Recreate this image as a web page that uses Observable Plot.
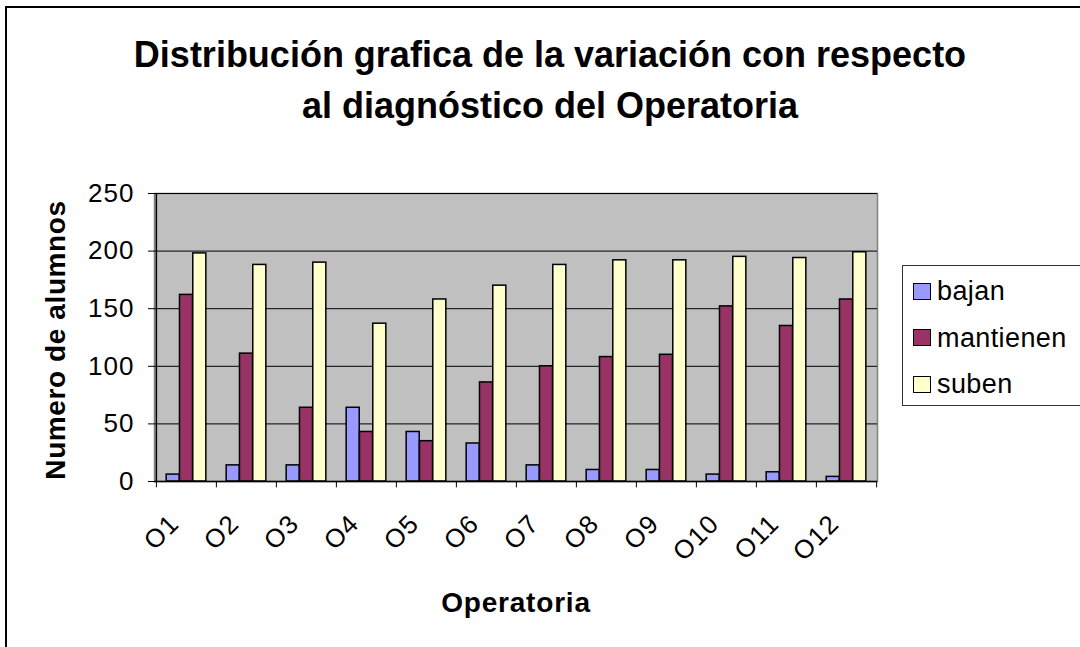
<!DOCTYPE html>
<html>
<head>
<meta charset="utf-8">
<script src="https://cdn.jsdelivr.net/npm/d3@7"></script>
<script src="https://cdn.jsdelivr.net/npm/@observablehq/plot@0.6"></script>
<style>
  html, body { margin: 0; padding: 0; background: #fff; overflow: hidden; }
  body { width: 1080px; height: 647px; position: relative; font-family: Arial, "Liberation Sans", sans-serif; }
  #frame { position: absolute; left: 5px; top: 6px; width: 1100px; height: 700px; border: 2px solid #000; box-sizing: border-box; }
  #title { position: absolute; left: 0; top: 29px; width: 1100px; text-align: center; font-weight: bold; font-size: 36px; line-height: 51px; color: #000; }
  #chart { position: absolute; left: 0; top: 140px; }
  #ytitle { position: absolute; left: 56px; top: 340px; transform: translate(-50%, -50%) rotate(-90deg); font-weight: bold; font-size: 28px; letter-spacing: 0.6px; white-space: nowrap; }
  #xtitle { position: absolute; left: 516px; top: 603px; transform: translate(-50%, -50%); font-weight: bold; font-size: 28px; letter-spacing: 0.8px; white-space: nowrap; }
  #legend { position: absolute; left: 902px; top: 265px; width: 200px; height: 141px; border: 1px solid #333; box-sizing: border-box; background: #fff; }
  .item { position: absolute; left: 10px; display: flex; align-items: center; font-size: 27px; letter-spacing: 0.4px; line-height: 30px; }
  .sw { width: 18px; height: 17px; border: 1.5px solid #000; box-sizing: border-box; margin-right: 6px; }
</style>
</head>
<body>
<div id="frame"></div>
<div id="title">Distribución grafica de la variación con respecto<br>al diagnóstico del Operatoria</div>
<div id="chart"></div>
<div id="ytitle">Numero de alumnos</div>
<div id="xtitle">Operatoria</div>
<div id="legend"></div>
<script>
const categories = ["O1","O2","O3","O4","O5","O6","O7","O8","O9","O10","O11","O12"];
const seriesNames = ["bajan","mantienen","suben"];
const bajan     = [6, 14, 14, 64, 43, 33, 14, 10, 10, 6, 8, 4];
const mantienen = [162, 111, 64, 43, 35, 86, 100, 108, 110, 152, 135, 158];
const suben     = [198, 188, 190, 137, 158, 170, 188, 192, 192, 195, 194, 199];
const yTicks = [0, 50, 100, 150, 200, 250];
const colors = ["#9999FF", "#993366", "#FFFFCC"];

const seriesValues = [bajan, mantienen, suben];
const data = [];
seriesNames.forEach((s, si) => categories.forEach((c, ci) => data.push({cat: c, series: s, value: seriesValues[si][ci]})));

const W = 1080, H = 507;
const mL = 154, mR = 203, mT = 53, mB = 166;
const step = (W - mL - mR) / categories.length;
const barW = 13.3;
const inset = (step - barW) / 2;

const barMarks = seriesNames.map((s, si) =>
  Plot.barY(data.filter(d => d.series === s), {
    x: "cat", y: "value", fill: colors[si], stroke: "#000", strokeWidth: 1.5,
    insetLeft: inset, insetRight: inset, dx: (si - 1) * barW
  })
);

const chart = Plot.plot({
  width: W, height: H,
  marginLeft: mL, marginRight: mR, marginTop: mT, marginBottom: mB,
  style: {fontFamily: "Arial, 'Liberation Sans', sans-serif", color: "#000", background: "transparent"},
  x: {type: "band", domain: categories, padding: 0},
  y: {domain: [0, 250]},
  marks: [
    Plot.frame({fill: "#C0C0C0", stroke: "#808080", strokeWidth: 1.5}),
    Plot.ruleY(yTicks.filter(t => t > 0), {stroke: "#000", strokeWidth: 1}),
    ...barMarks,
    Plot.ruleY([0], {stroke: "#000", strokeWidth: 1.5}),
    Plot.ruleX([categories[0]], {dx: -step / 2, stroke: "#000", strokeWidth: 1.5}),
    Plot.ruleX(categories, {x: d => d, dx: -step / 2, y1: 0, y2: -5.5, stroke: "#000"}),
    Plot.ruleX([categories[categories.length - 1]], {dx: step / 2, y1: 0, y2: -5.5, stroke: "#000"}),
    Plot.axisY({ticks: yTicks, tickSize: 6, tickPadding: 14, fontSize: 26, label: null, anchor: "left"}),
    Plot.axisX({tickSize: 0, tickRotate: -45, fontSize: 26, label: null, tickPadding: 38, dx: -12})
  ]
});
document.getElementById("chart").appendChild(chart);
chart.querySelectorAll("[aria-label='y-axis tick label'] text, [aria-label='x-axis tick label'] text").forEach(t => t.setAttribute("letter-spacing", "1"));

const legend = document.getElementById("legend");
seriesNames.forEach((s, i) => {
  const it = document.createElement("div");
  it.className = "item";
  it.style.top = (10 + i * 46.5) + "px";
  it.innerHTML = `<div class="sw" style="background:${colors[i]}"></div><span>${s}</span>`;
  legend.appendChild(it);
});
</script>
</body>
</html>
